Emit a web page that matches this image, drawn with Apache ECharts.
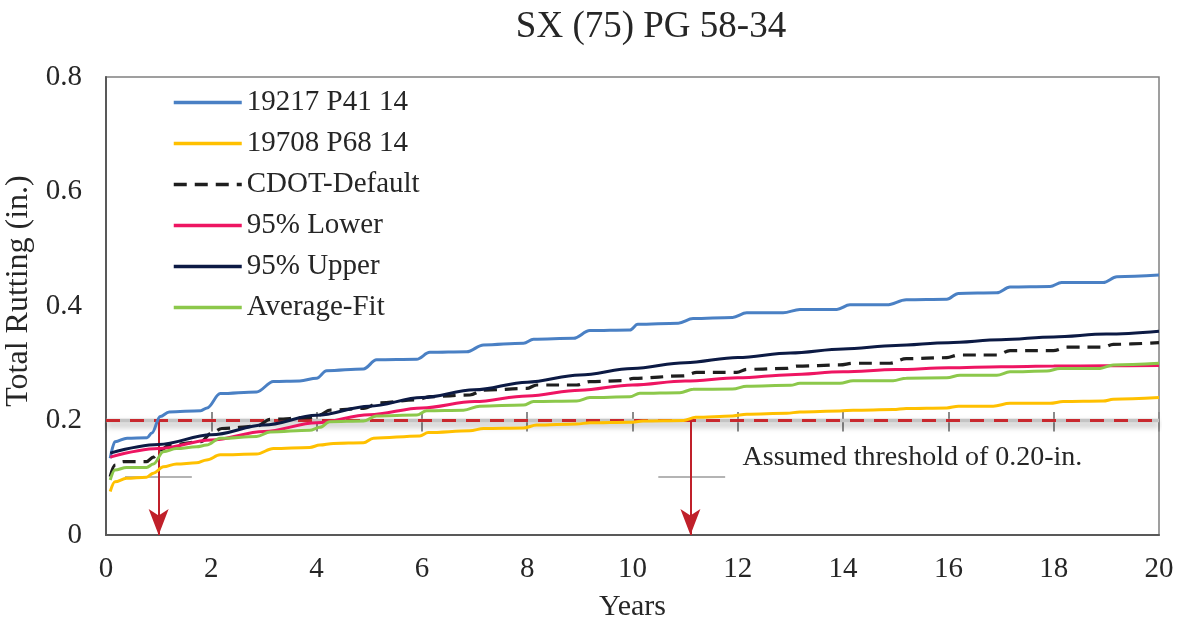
<!DOCTYPE html>
<html><head><meta charset="utf-8">
<script src="https://cdn.jsdelivr.net/npm/echarts@6/dist/echarts.min.js"></script>
<style>html,body{margin:0;padding:0;background:#fff}#c{width:1181px;height:621px}</style>
</head><body><div id="c"></div>
<script>
// ---------- data (years, total rutting in.) ----------
const chartTitle = 'SX (75) PG 58-34';
const seriesNames = ['19217 P41 14', '19708 P68 14', 'CDOT-Default', '95% Lower', '95% Upper', 'Average-Fit'];

const p41 = [[0.08,0.134],[0.17,0.163],[0.4,0.169],[0.78,0.170],[0.87,0.178],[1.03,0.207],[1.2,0.215],[1.8,0.217],[1.92,0.222],[2.17,0.247],[2.86,0.250],[3.18,0.268],[3.68,0.269],[4.0,0.274],[4.19,0.287],[4.89,0.290],[5.14,0.306],[5.9,0.307],[6.15,0.319],[6.85,0.320],[7.17,0.332],[7.93,0.335],[8.12,0.342],[8.88,0.3435],[9.19,0.357],[9.95,0.358],[10.1,0.368],[10.87,0.370],[11.15,0.378],[11.9,0.380],[12.17,0.388],[12.86,0.388],[13.18,0.394],[13.88,0.394],[14.13,0.402],[14.83,0.402],[15.2,0.411],[15.97,0.412],[16.19,0.422],[16.92,0.423],[17.17,0.433],[17.93,0.434],[18.15,0.441],[18.94,0.441],[19.2,0.451],[20,0.454]];

const p68 = [[0.08,0.076],[0.17,0.093],[0.39,0.099],[0.77,0.101],[0.9,0.108],[1.09,0.119],[1.34,0.124],[1.72,0.126],[1.91,0.131],[2.17,0.140],[2.86,0.1415],[3.18,0.151],[3.87,0.153],[4.06,0.157],[4.32,0.160],[4.89,0.161],[5.08,0.169],[5.96,0.173],[6.12,0.179],[6.91,0.182],[7.17,0.186],[7.93,0.187],[8.18,0.192],[8.94,0.194],[9.19,0.196],[9.95,0.197],[10.2,0.199],[10.97,0.200],[11.2,0.2055],[11.9,0.208],[12.17,0.211],[12.93,0.2125],[13.18,0.215],[13.94,0.2166],[14.19,0.218],[14.95,0.219],[15.2,0.221],[15.97,0.222],[16.19,0.225],[16.85,0.225],[17.17,0.230],[17.93,0.230],[18.18,0.233],[18.94,0.234],[19.13,0.237],[20,0.240]];

const cdotDefault = [[0.08,0.102],[0.17,0.122],[0.33,0.128],[0.77,0.128],[0.9,0.136],[1.03,0.148],[1.2,0.157],[1.8,0.163],[2.0,0.178],[2.2,0.186],[2.86,0.190],[3.12,0.202],[3.87,0.205],[4.06,0.210],[4.25,0.218],[4.89,0.221],[5.2,0.231],[5.9,0.236],[6.15,0.2416],[6.91,0.2445],[7.17,0.253],[7.99,0.256],[8.18,0.262],[8.94,0.262],[9.19,0.268],[9.83,0.2696],[10.02,0.2737],[10.97,0.278],[11.22,0.284],[11.98,0.284],[12.17,0.2894],[12.93,0.291],[13.12,0.295],[13.94,0.297],[14.19,0.300],[14.89,0.300],[15.2,0.308],[15.97,0.3097],[16.19,0.3144],[16.92,0.3144],[17.17,0.322],[17.99,0.322],[18.25,0.328],[18.94,0.328],[19.13,0.333],[20,0.336]];

const lower95 = [[0.08,0.136],[1,0.151],[2,0.166],[3,0.181],[4,0.196],[5,0.210],[6,0.222],[7,0.233],[8,0.243],[9,0.253],[10,0.262],[11,0.269],[12,0.2745],[13,0.280],[14,0.285],[15,0.289],[16,0.292],[17,0.294],[18,0.295],[19,0.2955],[20,0.296]];

const upper95 = [[0.08,0.143],[1,0.158],[2,0.175],[3,0.192],[4,0.209],[5,0.225],[6,0.240],[7,0.2535],[8,0.267],[9,0.2795],[10,0.291],[11,0.301],[12,0.310],[13,0.318],[14,0.325],[15,0.331],[16,0.336],[17,0.341],[18,0.346],[19,0.351],[20,0.356]];

const averageFit = [[0.08,0.096],[0.17,0.1135],[0.39,0.118],[0.77,0.118],[0.9,0.124],[1.09,0.1456],[1.34,0.151],[1.72,0.154],[1.91,0.157],[2.17,0.169],[2.86,0.172],[3.12,0.180],[3.87,0.183],[4.06,0.188],[4.25,0.198],[4.89,0.199],[5.14,0.208],[5.9,0.2096],[6.09,0.217],[6.79,0.218],[7.1,0.225],[7.93,0.227],[8.12,0.233],[8.94,0.234],[9.19,0.240],[9.95,0.2416],[10.14,0.2475],[10.9,0.2486],[11.15,0.2544],[11.9,0.255],[12.17,0.260],[13.0,0.2614],[13.18,0.265],[13.94,0.265],[14.19,0.2696],[14.95,0.2696],[15.2,0.274],[15.97,0.2745],[16.22,0.279],[16.92,0.279],[17.17,0.285],[17.87,0.2865],[18.12,0.291],[18.88,0.291],[19.13,0.297],[20,0.300]];

const thresholdValue = 0.2;
const thresholdLine = [[0,0.2],[20,0.2]];
const thresholdTickYears = [2,4,6,8,10,12,14,16,18,20];
const thresholdTickRange = [0.181,0.215];
const arrowYears = [1.0, 11.1];
const grayBars = [[0.36,1.63,0.102],[10.49,11.76,0.102]];
const annotationText = 'Assumed threshold of 0.20-in.';
const annotationAt = [12.08,0.1345];

// ---------- chart ----------
const FONT = '"Liberation Serif","Times New Roman",serif';
const TXT = '#262626';
const chart = echarts.init(document.getElementById('c'), null, {renderer:'canvas'});

const tickSegments = thresholdTickYears.map(x => [{coord:[x,thresholdTickRange[0]]},{coord:[x,thresholdTickRange[1]]}]);
const barSegments = grayBars.map(b => [{coord:[b[0],b[2]], lineStyle:{color:'#b4b4b4', width:2}},{coord:[b[1],b[2]]}]);
const arrowSegments = arrowYears.map(x => [
  {coord:[x,thresholdValue], symbol:'none'},
  {coord:[x,0], symbol:'arrow', symbolSize:[15,26]}
]);

function dataLine(name, data, color, width, type) {
  return {name, type:'line', data, showSymbol:false, symbol:'none', smooth:0.35, smoothMonotone:'x',
    lineStyle:{color, width, type: type || 'solid'}, itemStyle:{color}, z:5, animation:false};
}

chart.setOption({
  animation:false,
  backgroundColor:'#fff',
  title:{text:chartTitle, left:646, textAlign:'center', top:4,
    textStyle:{fontFamily:FONT, fontWeight:'normal', fontSize:37, color:TXT}},
  grid:{left:106, right:22, top:77, bottom:86, show:true, borderColor:'#808080', borderWidth:1.5,
    outerBoundsMode:'none', containLabel:false},
  legend:{orient:'vertical', left:172, top:88, padding:0, itemGap:12, itemWidth:68, itemHeight:14,
    data:seriesNames, selectedMode:false,
    itemStyle:{opacity:0}, lineStyle:{width:3.5},
    textStyle:{fontFamily:FONT, fontSize:29, color:TXT, lineHeight:29}},
  xAxis:{type:'value', min:0, max:20, interval:2, name:'Years', nameLocation:'middle', nameGap:57,
    nameTextStyle:{fontFamily:FONT, fontSize:30, color:TXT},
    axisLine:{show:true, lineStyle:{color:'#595959', width:2}}, axisTick:{show:false},
    splitLine:{show:false},
    axisLabel:{fontFamily:FONT, fontSize:29, color:TXT, margin:20}},
  yAxis:{type:'value', min:0, max:0.8, interval:0.2, name:'Total Rutting (in.)', nameLocation:'middle', nameGap:61,
    nameTextStyle:{fontFamily:FONT, fontSize:32, color:TXT, padding:[0,0,0,30]},
    axisLine:{show:true, lineStyle:{color:'#595959', width:2}}, axisTick:{show:false},
    splitLine:{show:false},
    axisLabel:{fontFamily:FONT, fontSize:29, color:TXT, margin:24,
      formatter: v => (v===0 ? '0' : String(+v.toFixed(1)))}},
  series:[
    {name:'thresholdShadow', type:'line', data:thresholdLine, symbol:'none', z:1, silent:true,
      lineStyle:{color:'#c4c4c4', width:3.5, shadowColor:'rgba(0,0,0,0.35)', shadowBlur:6, shadowOffsetY:4},
      markLine:{silent:true, symbol:'none', animation:false, z:1,
        lineStyle:{color:'#8c8c8c', width:2, type:'solid'}, label:{show:false},
        data: tickSegments.concat(barSegments)}},
    {name:'thresholdRed', type:'line', data:thresholdLine, symbol:'none', z:2, silent:true,
      lineStyle:{color:'#C8282E', width:3, type:[14,10]},
      markLine:{silent:true, animation:false, z:3, label:{show:false},
        lineStyle:{color:'#C0202A', width:2, type:'solid'},
        data: arrowSegments},
      markPoint:{silent:true, symbol:'circle', symbolSize:1, itemStyle:{color:'rgba(0,0,0,0)'},
        data:[{coord:annotationAt, label:{show:true, position:'right', distance:0, formatter:annotationText,
          fontFamily:FONT, fontSize:28, color:TXT}}]}},
    dataLine(seriesNames[0], p41, '#4A80C4', 3),
    dataLine(seriesNames[1], p68, '#FFC000', 3),
    dataLine(seriesNames[2], cdotDefault, '#1E1E1E', 3.2, [13,8]),
    dataLine(seriesNames[3], lower95, '#EE1562', 3),
    dataLine(seriesNames[4], upper95, '#0C1A44', 3),
    dataLine(seriesNames[5], averageFit, '#8CC84B', 3)
  ]
});
</script></body></html>
